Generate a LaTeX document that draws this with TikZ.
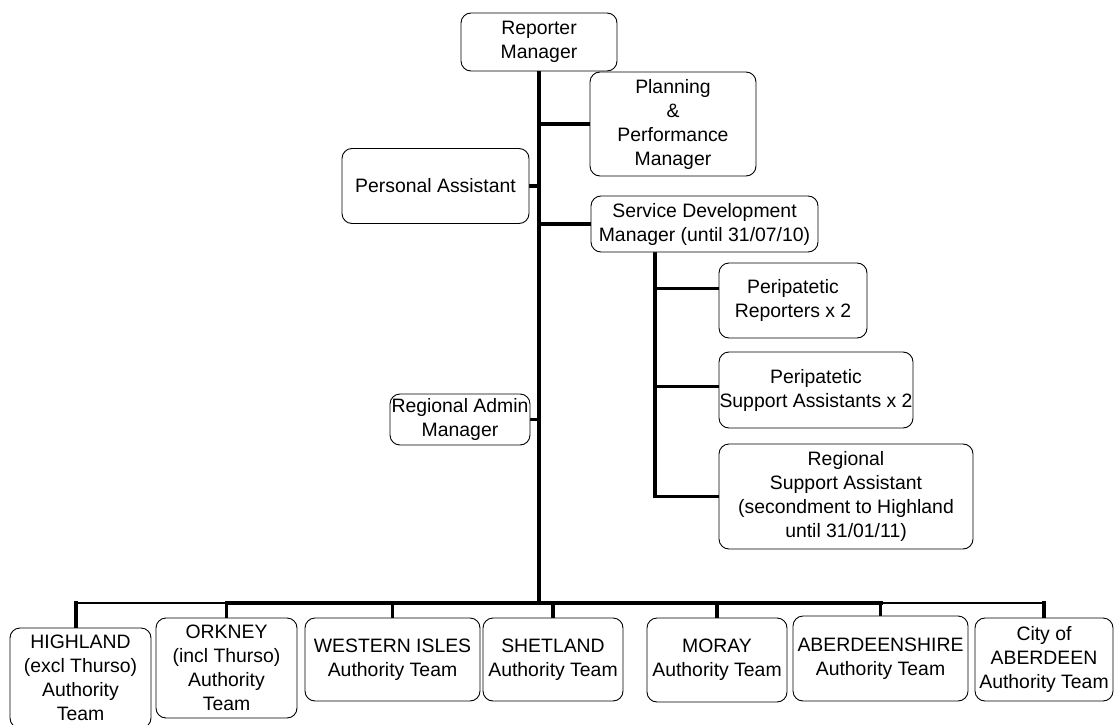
\documentclass[tikz,border=0pt]{standalone}
\usepackage{fontspec}
\setmainfont{Liberation Sans}
\usetikzlibrary{calc,backgrounds}
\begin{document}
\begin{tikzpicture}[x=1pt,y=-1pt,
  orgbox/.style={draw=black, fill=white, line width=0.9pt, rounded corners=10pt,
    inner sep=0pt, align=center, font=\fontsize{19.4}{24}\selectfont},
  conn/.style={line width=3.2pt, line cap=rect},
  busthin/.style={line width=2.7pt, line cap=rect},
  busthick/.style={line width=4pt, line cap=rect}]
\useasboundingbox (0,0) rectangle (1114,725);
\clip (0,0) rectangle (1114,725);

% top level
\node[orgbox, minimum width=156pt, minimum height=58pt] (rm) at (539,42) {Reporter\\Manager};
\node[orgbox, minimum width=166pt, minimum height=104pt] (plan) at (673,124) {Planning\\\&\\Performance\\Manager};
\node[orgbox, minimum width=187pt, minimum height=75pt] (pa) at (435.5,186) {Personal Assistant};
\node[orgbox, minimum width=227pt, minimum height=56pt] (sdm) at (704.5,224) {Service Development\\Manager (until 31/07/10)};
\node[orgbox, minimum width=148pt, minimum height=75pt] (prep) at (793,300.5) {Peripatetic\\Reporters x 2};
\node[orgbox, minimum width=194pt, minimum height=76pt] (psup) at (816,390) {Peripatetic\\Support Assistants x 2};
\node[orgbox, minimum width=254pt, minimum height=105pt] (rsa) at (846,496.5) {Regional\\Support Assistant\\(secondment to Highland\\until 31/01/11)};
\node[orgbox, minimum width=140pt, minimum height=51pt] (ram) at (460,419.5) {Regional Admin\\Manager};

% authority teams
\node[orgbox, minimum width=141pt, minimum height=100pt] (hl) at (80.5,678) {HIGHLAND\\(excl Thurso)\\Authority\\Team};
\node[orgbox, minimum width=141pt, minimum height=100pt] (ork) at (226.5,668) {ORKNEY\\(incl Thurso)\\Authority\\Team};
\node[orgbox, minimum width=175pt, minimum height=83pt] (wi) at (392.5,659.5) {WESTERN ISLES\\Authority Team};
\node[orgbox, minimum width=140pt, minimum height=83pt] (sh) at (553,659.5) {SHETLAND\\Authority Team};
\node[orgbox, minimum width=140pt, minimum height=84pt] (mo) at (717,660) {MORAY\\Authority Team};
\node[orgbox, minimum width=175pt, minimum height=85pt] (ab) at (880.5,658.5) {ABERDEENSHIRE\\Authority Team};
\node[orgbox, minimum width=138pt, minimum height=83pt] (city) at (1044,659.5) {City of\\ABERDEEN\\Authority Team};

\coordinate (bus) at (540,603);
\coordinate (subx) at (655,0);
\coordinate (hltap) at ([xshift=-4.5pt]hl.north);
\coordinate (prepw) at ($(prep.north west)!0.34!(prep.south west)$);
\coordinate (psupw) at ($(psup.north west)!0.45!(psup.south west)$);

\begin{scope}[on background layer]
  % main spine
  \draw[conn] (rm.south) -- (rm.south |- bus);
  \draw[conn] (plan.west) -- (plan.west -| rm.south);
  \draw[conn] (pa.east) -- (pa.east -| rm.south);
  \draw[conn] (sdm.west) -- (sdm.west -| rm.south);
  \draw[conn] (ram.east) -- (ram.east -| rm.south);
  % service development branch
  \draw[conn] (subx |- sdm.south) -- (subx |- rsa.west);
  \draw[conn] (prepw) -- (prepw -| subx);
  \draw[conn] (psupw) -- (psupw -| subx);
  \draw[conn] (rsa.west) -- (rsa.west -| subx);
  % bus
  \draw[busthin] (hltap |- bus) -- (city.north |- bus);
  \draw[busthick] (ork.north |- bus) -- (ab.north |- bus);
  \draw[conn] (hltap) -- (hltap |- bus);
  \draw[conn] (ork.north) -- (ork.north |- bus);
  \draw[conn] (wi.north) -- (wi.north |- bus);
  \draw[conn] (sh.north) -- (sh.north |- bus);
  \draw[conn] (mo.north) -- (mo.north |- bus);
  \draw[conn] (ab.north) -- (ab.north |- bus);
  \draw[conn] (city.north) -- (city.north |- bus);
\end{scope}
\end{tikzpicture}
\end{document}
